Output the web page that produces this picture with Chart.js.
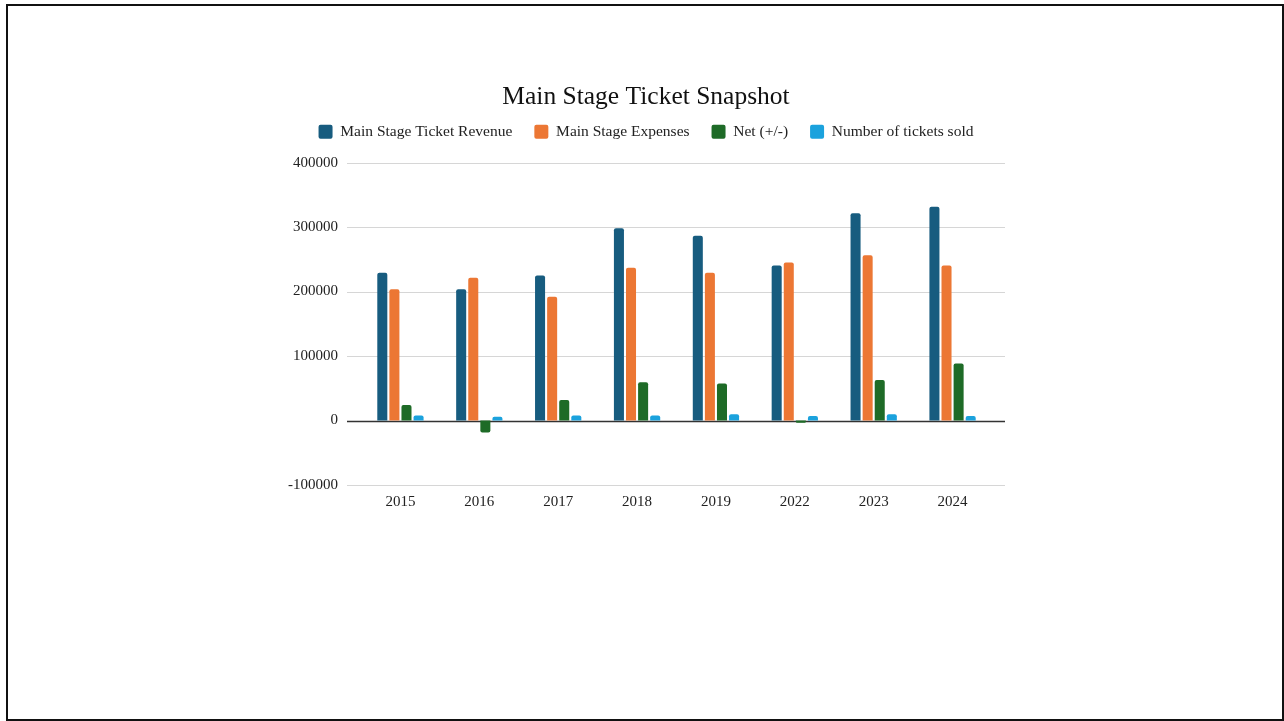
<!DOCTYPE html>
<html>
<head>
<meta charset="utf-8">
<script src="https://cdn.jsdelivr.net/npm/chart.js@4.4.1/dist/chart.umd.min.js"></script>
<style>
  html, body { margin: 0; padding: 0; background: #ffffff; }
  #wrap { position: relative; width: 1284px; height: 721px; overflow: hidden; background: #fff; }
  #frame { position: absolute; left: 6px; top: 4px; width: 1278px; height: 717px; box-sizing: border-box; border: 2px solid #111; pointer-events: none; }
  canvas { position: absolute; left: 0; top: 0; }
</style>
</head>
<body>
<div id="wrap">
  <canvas id="chart" width="1284" height="721"></canvas>
  <div id="frame"></div>
</div>
<script>
// Season years shown on the category axis
const years = ['2015', '2016', '2017', '2018', '2019', '2022', '2023', '2024'];

// Main stage figures per season
const ticketRevenue = [229000, 203500, 225000, 298000, 286500, 240500, 321500, 331500];
const stageExpenses = [203500, 221500, 192000, 237000, 229000, 245000, 256500, 240500];
const netResult     = [24000, -18500, 32000, 59500, 57500, -3500, 63000, 88500];
const ticketsSold   = [7700, 5800, 7700, 7700, 9800, 7200, 9800, 7200];

// Value axis ticks
const yTicks = [-100000, 0, 100000, 200000, 300000, 400000];

const seriesNames = ['Main Stage Ticket Revenue', 'Main Stage Expenses', 'Net (+/-)', 'Number of tickets sold'];
const seriesColors = ['#175c7f', '#ec7734', '#1e6b27', '#1ba2dd'];

const serif = '"Liberation Serif", "Times New Roman", serif';

// Horizontal gridlines run a little past the plotted categories on both sides
const gridPlugin = {
  id: 'wideGrid',
  beforeDatasetsDraw(chart) {
    const { ctx, chartArea, scales } = chart;
    const y = scales.y;
    const left = chartArea.left - 14;
    const right = chartArea.right + 13;
    ctx.save();
    yTicks.forEach(v => {
      const py = Math.round(y.getPixelForValue(v)) + 0.5;
      ctx.beginPath();
      ctx.strokeStyle = v === 0 ? '#333333' : '#d6d6d6';
      ctx.lineWidth = v === 0 ? 1.3 : 1;
      ctx.moveTo(left, py);
      ctx.lineTo(right, py);
      ctx.stroke();
    });
    ctx.restore();
  }
};

const datasets = [ticketRevenue, stageExpenses, netResult, ticketsSold].map((vals, i) => ({
  label: seriesNames[i],
  data: vals,
  backgroundColor: seriesColors[i],
  borderWidth: 0,
  borderRadius: 2,
  categoryPercentage: 0.613,
  barPercentage: 0.83
}));

new Chart(document.getElementById('chart'), {
  type: 'bar',
  data: { labels: years, datasets },
  plugins: [gridPlugin],
  options: {
    responsive: false,
    animation: false,
    devicePixelRatio: 1,
    layout: { padding: { left: 260, right: 252, top: 70, bottom: 206 } },
    plugins: {
      title: {
        display: true,
        text: 'Main Stage Ticket Snapshot',
        color: '#111',
        font: { family: serif, size: 25.5, weight: 'normal' },
        padding: { top: 11.5, bottom: -10 }
      },
      legend: {
        display: true,
        position: 'top',
        labels: {
          color: '#222',
          font: { family: serif, size: 15.5 },
          boxWidth: 14,
          boxHeight: 14,
          padding: 22,
          useBorderRadius: true,
          borderRadius: 2
        }
      },
      tooltip: { enabled: false }
    },
    scales: {
      x: {
        grid: { display: false },
        border: { display: false },
        ticks: { color: '#222', font: { family: serif, size: 15 }, padding: 0 },
        afterFit(s) { s.height = 30; }
      },
      xTopSpacer: {
        type: 'category',
        position: 'top',
        labels: years,
        grid: { display: false },
        border: { display: false },
        ticks: { display: false },
        afterFit(s) { s.height = 13; }
      },
      y: {
        min: -100000,
        max: 400000,
        grid: { display: false },
        border: { display: false },
        afterBuildTicks(s) { s.ticks = yTicks.map(v => ({ value: v })); },
        ticks: { color: '#222', font: { family: serif, size: 15 }, padding: 15, callback: v => String(v) },
        afterFit(s) { s.width = 101; }
      },
      yRightSpacer: {
        type: 'linear',
        position: 'right',
        grid: { display: false },
        border: { display: false },
        ticks: { display: false },
        afterFit(s) { s.width = 40; }
      }
    }
  }
});
</script>
</body>
</html>
